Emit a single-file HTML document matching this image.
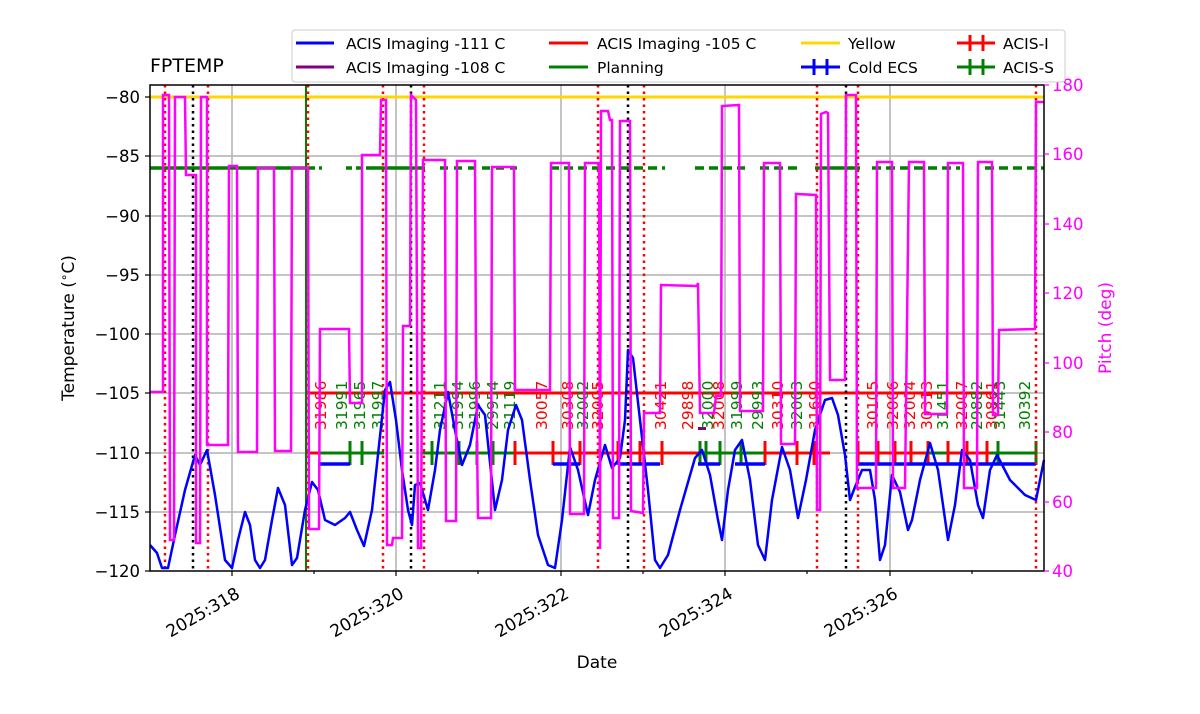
<!DOCTYPE html>
<html><head><meta charset="utf-8"><style>
body{margin:0;background:#fff;}
svg{display:block;font-family:"DejaVu Sans","Liberation Sans",sans-serif;}
</style></head><body>
<svg width="1200" height="714" viewBox="0 0 1200 714" xmlns="http://www.w3.org/2000/svg">
<rect width="1200" height="714" fill="#fff"/>
<g stroke="#b0b0b0" stroke-width="1.5">
<line x1="232" y1="85" x2="232" y2="571"/><line x1="396" y1="85" x2="396" y2="571"/>
<line x1="561" y1="85" x2="561" y2="571"/><line x1="725" y1="85" x2="725" y2="571"/>
<line x1="890" y1="85" x2="890" y2="571"/>
<line x1="150" y1="97" x2="1044" y2="97"/><line x1="150" y1="156" x2="1044" y2="156"/>
<line x1="150" y1="216" x2="1044" y2="216"/><line x1="150" y1="275" x2="1044" y2="275"/>
<line x1="150" y1="334" x2="1044" y2="334"/><line x1="150" y1="393" x2="1044" y2="393"/>
<line x1="150" y1="453" x2="1044" y2="453"/><line x1="150" y1="512" x2="1044" y2="512"/>
</g>
<line x1="150" y1="97" x2="1044" y2="97" stroke="#ffd700" stroke-width="3"/>
<g stroke="green" stroke-width="3.5">
<line x1="150" y1="168" x2="310" y2="168"/>
<line x1="310" y1="168" x2="322" y2="168" stroke-dasharray="5,4"/>
<line x1="346" y1="168" x2="372" y2="168" stroke-dasharray="6,4"/>
<line x1="372" y1="168" x2="425" y2="168"/>
<line x1="440" y1="168" x2="517" y2="168" stroke-dasharray="8,6"/>
<line x1="550" y1="168" x2="665" y2="168" stroke-dasharray="9,5"/>
<line x1="695" y1="168" x2="745" y2="168" stroke-dasharray="9,5"/>
<line x1="760" y1="168" x2="800" y2="168" stroke-dasharray="9,5"/>
<line x1="815" y1="168" x2="860" y2="168"/>
<line x1="872" y1="168" x2="960" y2="168" stroke-dasharray="9,5"/>
<line x1="985" y1="168" x2="1044" y2="168" stroke-dasharray="9,5"/>
</g>
<line x1="307" y1="393" x2="995" y2="393" stroke="red" stroke-width="3"/>
<g stroke-width="3">
<line x1="307" y1="453" x2="320" y2="453" stroke="red"/>
<line x1="320" y1="453" x2="384" y2="453" stroke="green"/>
<line x1="421" y1="453" x2="515" y2="453" stroke="green"/>
<line x1="515" y1="453" x2="700" y2="453" stroke="red"/>
<line x1="700" y1="453" x2="765" y2="453" stroke="green"/>
<line x1="765" y1="453" x2="830" y2="453" stroke="red"/>
<line x1="857" y1="453" x2="928" y2="453" stroke="red"/>
<line x1="928" y1="453" x2="948" y2="453" stroke="green"/>
<line x1="948" y1="453" x2="990" y2="453" stroke="red"/>
<line x1="990" y1="453" x2="1036" y2="453" stroke="green"/>
</g>
<g stroke-width="3">
<g stroke="green"><line x1="350" y1="441" x2="350" y2="465"/><line x1="362" y1="441" x2="362" y2="465"/><line x1="432" y1="441" x2="432" y2="465"/><line x1="459" y1="441" x2="459" y2="465"/><line x1="477" y1="441" x2="477" y2="465"/><line x1="493" y1="441" x2="493" y2="465"/><line x1="700" y1="441" x2="700" y2="465"/><line x1="706" y1="441" x2="706" y2="465"/><line x1="720" y1="441" x2="720" y2="465"/><line x1="741" y1="441" x2="741" y2="465"/><line x1="998" y1="441" x2="998" y2="465"/><line x1="1036" y1="441" x2="1036" y2="465"/></g>
<g stroke="red"><line x1="515" y1="441" x2="515" y2="465"/><line x1="553" y1="441" x2="553" y2="465"/><line x1="580" y1="441" x2="580" y2="465"/><line x1="600" y1="441" x2="600" y2="465"/><line x1="618" y1="441" x2="618" y2="465"/><line x1="640" y1="441" x2="640" y2="465"/><line x1="662" y1="441" x2="662" y2="465"/><line x1="765" y1="441" x2="765" y2="465"/><line x1="797" y1="441" x2="797" y2="465"/><line x1="814" y1="441" x2="814" y2="465"/><line x1="858" y1="441" x2="858" y2="465"/><line x1="878" y1="441" x2="878" y2="465"/><line x1="895" y1="441" x2="895" y2="465"/><line x1="911" y1="441" x2="911" y2="465"/><line x1="928" y1="441" x2="928" y2="465"/><line x1="948" y1="441" x2="948" y2="465"/><line x1="967" y1="441" x2="967" y2="465"/><line x1="987" y1="441" x2="987" y2="465"/></g>
</g>
<g stroke="blue" stroke-width="3.5">
<line x1="318" y1="464" x2="350" y2="464"/><line x1="553" y1="464" x2="580" y2="464"/>
<line x1="620" y1="464" x2="660" y2="464"/><line x1="698" y1="464" x2="720" y2="464"/>
<line x1="735" y1="464" x2="765" y2="464"/><line x1="858" y1="464" x2="1036" y2="464"/>
</g>
<rect x="698" y="427" width="8" height="3" fill="purple"/>
<line x1="306" y1="85" x2="306" y2="571" stroke="green" stroke-width="2"/>
<g stroke="red" stroke-width="2.5" stroke-dasharray="2.5,4">
<line x1="165" y1="85" x2="165" y2="571"/><line x1="208" y1="85" x2="208" y2="571"/>
<line x1="308" y1="85" x2="308" y2="571"/><line x1="383" y1="85" x2="383" y2="571"/>
<line x1="424" y1="85" x2="424" y2="571"/><line x1="598" y1="85" x2="598" y2="571"/>
<line x1="644" y1="85" x2="644" y2="571"/><line x1="817" y1="85" x2="817" y2="571"/>
<line x1="858" y1="85" x2="858" y2="571"/><line x1="1036" y1="85" x2="1036" y2="571"/>
</g>
<g stroke="#000" stroke-width="2.5" stroke-dasharray="2.5,4">
<line x1="193" y1="85" x2="193" y2="571"/><line x1="411" y1="85" x2="411" y2="571"/>
<line x1="628" y1="85" x2="628" y2="571"/><line x1="846" y1="85" x2="846" y2="571"/>
</g>
<g font-size="15.5">
<g fill="red">
<text transform="translate(326,430) rotate(-90)">31986</text>
<text transform="translate(547,430) rotate(-90)">30057</text>
<text transform="translate(573,430) rotate(-90)">30308</text>
<text transform="translate(603,430) rotate(-90)">32005</text>
<text transform="translate(666,430) rotate(-90)">30421</text>
<text transform="translate(693,430) rotate(-90)">29898</text>
<text transform="translate(724,430) rotate(-90)">32008</text>
<text transform="translate(783,430) rotate(-90)">30310</text>
<text transform="translate(820,430) rotate(-90)">31690</text>
<text transform="translate(878,430) rotate(-90)">30105</text>
<text transform="translate(898,430) rotate(-90)">32006</text>
<text transform="translate(915,430) rotate(-90)">32004</text>
<text transform="translate(932,430) rotate(-90)">30313</text>
<text transform="translate(967,430) rotate(-90)">32007</text>
<text transform="translate(997,430) rotate(-90)">30861</text>
</g>
<g fill="green">
<text transform="translate(347,430) rotate(-90)">31991</text>
<text transform="translate(365,430) rotate(-90)">31965</text>
<text transform="translate(383,430) rotate(-90)">31997</text>
<text transform="translate(445,430) rotate(-90)">31211</text>
<text transform="translate(463,430) rotate(-90)">31994</text>
<text transform="translate(480,430) rotate(-90)">31996</text>
<text transform="translate(498,430) rotate(-90)">29954</text>
<text transform="translate(515,430) rotate(-90)">31119</text>
<text transform="translate(588,430) rotate(-90)">32002</text>
<text transform="translate(713,430) rotate(-90)">32000</text>
<text transform="translate(742,430) rotate(-90)">31999</text>
<text transform="translate(763,430) rotate(-90)">29993</text>
<text transform="translate(802,430) rotate(-90)">32003</text>
<text transform="translate(948,430) rotate(-90)">31451</text>
<text transform="translate(982,430) rotate(-90)">29882</text>
<text transform="translate(1005,430) rotate(-90)">31443</text>
<text transform="translate(1030,430) rotate(-90)">30392</text>
</g>
</g>
<polyline fill="none" stroke="blue" stroke-width="2.5" stroke-linejoin="round" points="150,545 157,553 162,568 168,568 175,535 185,490 195,455 200,465 207,450 215,495 225,560 232,568 238,540 245,512 250,525 255,560 260,568 265,560 272,520 278,488 285,505 292,565 297,558 305,510 312,482 318,490 325,520 335,525 345,518 350,512 357,530 364,546 372,510 385,390 390,382 396,420 402,470 408,510 412,525 415,485 420,483 428,510 435,470 440,430 448,392 455,430 462,465 470,445 478,405 485,415 495,510 502,480 508,430 516,405 522,420 530,480 538,535 548,565 555,568 562,520 570,447 578,470 588,515 595,480 605,445 612,468 620,458 625,420 628,350 633,358 640,420 648,490 655,560 660,568 668,555 680,510 695,458 702,450 710,475 718,520 722,540 728,490 735,450 742,440 750,480 758,545 765,560 772,500 782,447 790,470 798,518 806,480 815,430 825,400 832,398 838,415 845,455 850,500 855,487 862,470 870,470 875,500 880,560 885,545 892,475 900,492 908,530 912,520 920,480 930,443 938,470 948,540 955,505 962,450 970,460 978,505 983,518 990,470 997,455 1010,480 1025,495 1036,500 1044,460"/>
<polyline fill="none" stroke="magenta" stroke-width="2.5" points="150,392 163,392 163,95 169,95 170,540 174,540 175,97 185,97 186,175 196,175 196,543 200,543 201,97 207,97 207,445 228,445 229,166 237,166 238,452 257,452 258,168 274,168 275,451 291,451 292,168 308,168 309,529 319,529 320,329 349,329 350,403 362,403 362,155 380,155 381,100 386,100 387,545 392,545 393,538 402,538 403,326 410,326 411,95 416,100 418,548 421,548 423,160 445,160 446,521 456,521 457,161 475,161 476,358 478,518 491,518 492,167 514,167 515,390 550,390 551,163 569,163 570,514 584,514 585,163 599,163 600,549 601,111 608,111 610,120 612,120 613,518 619,518 620,121 630,121 631,511 643,513 644,413 660,413 661,285 697,286 698,283 700,413 714,413 716,396 721,396 722,106 739,105 740,411 763,411 764,163 780,163 781,444 795,444 796,194 816,195 817,510 820,510 821,114 826,112 828,113 830,380 845,380 846,95 856,95 857,488 876,488 877,162 892,162 893,488 905,488 909,162 924,162 925,414 947,414 948,163 963,163 964,488 977,488 978,162 992,162 993,415 998,415 999,330 1035,329 1036,102 1044,102"/>
<rect x="150" y="85" width="894" height="486" fill="none" stroke="#000" stroke-width="1.5"/>
<g stroke="#000" stroke-width="1.2">
<line x1="145" y1="97" x2="150" y2="97"/><line x1="145" y1="156" x2="150" y2="156"/><line x1="145" y1="216" x2="150" y2="216"/><line x1="145" y1="275" x2="150" y2="275"/><line x1="145" y1="334" x2="150" y2="334"/><line x1="145" y1="393" x2="150" y2="393"/><line x1="145" y1="453" x2="150" y2="453"/><line x1="145" y1="512" x2="150" y2="512"/><line x1="145" y1="571" x2="150" y2="571"/>
<line x1="232" y1="571" x2="232" y2="576"/><line x1="396" y1="571" x2="396" y2="576"/><line x1="561" y1="571" x2="561" y2="576"/><line x1="725" y1="571" x2="725" y2="576"/><line x1="890" y1="571" x2="890" y2="576"/>
<line x1="314" y1="571" x2="314" y2="574"/><line x1="478" y1="571" x2="478" y2="574"/><line x1="643" y1="571" x2="643" y2="574"/><line x1="807" y1="571" x2="807" y2="574"/><line x1="972" y1="571" x2="972" y2="574"/>
</g>
<g stroke="magenta" stroke-width="1.2">
<line x1="1044" y1="85" x2="1049" y2="85"/><line x1="1044" y1="154" x2="1049" y2="154"/><line x1="1044" y1="224" x2="1049" y2="224"/><line x1="1044" y1="293" x2="1049" y2="293"/><line x1="1044" y1="363" x2="1049" y2="363"/><line x1="1044" y1="432" x2="1049" y2="432"/><line x1="1044" y1="502" x2="1049" y2="502"/><line x1="1044" y1="571" x2="1049" y2="571"/>
</g>
<g font-size="16.5" text-anchor="end" fill="#000">
<text x="140" y="103">−80</text><text x="140" y="162">−85</text><text x="140" y="222">−90</text><text x="140" y="281">−95</text><text x="140" y="340">−100</text><text x="140" y="399">−105</text><text x="140" y="459">−110</text><text x="140" y="518">−115</text><text x="140" y="577">−120</text>
</g>
<g font-size="16.5" fill="magenta">
<text x="1052" y="91">180</text><text x="1052" y="160">160</text><text x="1052" y="230">140</text><text x="1052" y="299">120</text><text x="1052" y="369">100</text><text x="1052" y="438">80</text><text x="1052" y="508">60</text><text x="1052" y="577">40</text>
</g>
<g font-size="17" text-anchor="end">
<text transform="translate(241,597) rotate(-30)">2025:318</text>
<text transform="translate(405,597) rotate(-30)">2025:320</text>
<text transform="translate(570,597) rotate(-30)">2025:322</text>
<text transform="translate(734,597) rotate(-30)">2025:324</text>
<text transform="translate(899,597) rotate(-30)">2025:326</text>
</g>
<text x="597" y="668" font-size="17" text-anchor="middle">Date</text>
<text transform="translate(74,328) rotate(-90)" font-size="17" text-anchor="middle">Temperature (<tspan font-size="12" dy="-6">∘</tspan><tspan dy="6">C)</tspan></text>
<text transform="translate(1111,328) rotate(-90)" font-size="17" text-anchor="middle" fill="magenta">Pitch (deg)</text>
<text x="150" y="72" font-size="19">FPTEMP</text>
<rect x="292" y="30" width="773" height="52" rx="3" fill="#fff" stroke="#ccc"/>
<g stroke-width="3">
<line x1="296" y1="43" x2="334" y2="43" stroke="blue"/>
<line x1="296" y1="67" x2="334" y2="67" stroke="purple"/>
<line x1="549" y1="43" x2="588" y2="43" stroke="red"/>
<line x1="549" y1="67" x2="588" y2="67" stroke="green"/>
<line x1="801" y1="43" x2="840" y2="43" stroke="#ffd700"/>
<line x1="801" y1="67" x2="840" y2="67" stroke="blue"/>
<line x1="814" y1="59" x2="814" y2="75" stroke="blue"/><line x1="827" y1="59" x2="827" y2="75" stroke="blue"/>
<line x1="957" y1="43" x2="995" y2="43" stroke="red"/>
<line x1="970" y1="35" x2="970" y2="51" stroke="red"/><line x1="983" y1="35" x2="983" y2="51" stroke="red"/>
<line x1="957" y1="67" x2="995" y2="67" stroke="green"/>
<line x1="970" y1="59" x2="970" y2="75" stroke="green"/><line x1="983" y1="59" x2="983" y2="75" stroke="green"/>
</g>
<g font-size="15.5">
<text x="346" y="49">ACIS Imaging -111 C</text>
<text x="346" y="73">ACIS Imaging -108 C</text>
<text x="597" y="49">ACIS Imaging -105 C</text>
<text x="597" y="73">Planning</text>
<text x="848" y="49">Yellow</text>
<text x="848" y="73">Cold ECS</text>
<text x="1003" y="49">ACIS-I</text>
<text x="1003" y="73">ACIS-S</text>
</g>
</svg>
</body></html>
